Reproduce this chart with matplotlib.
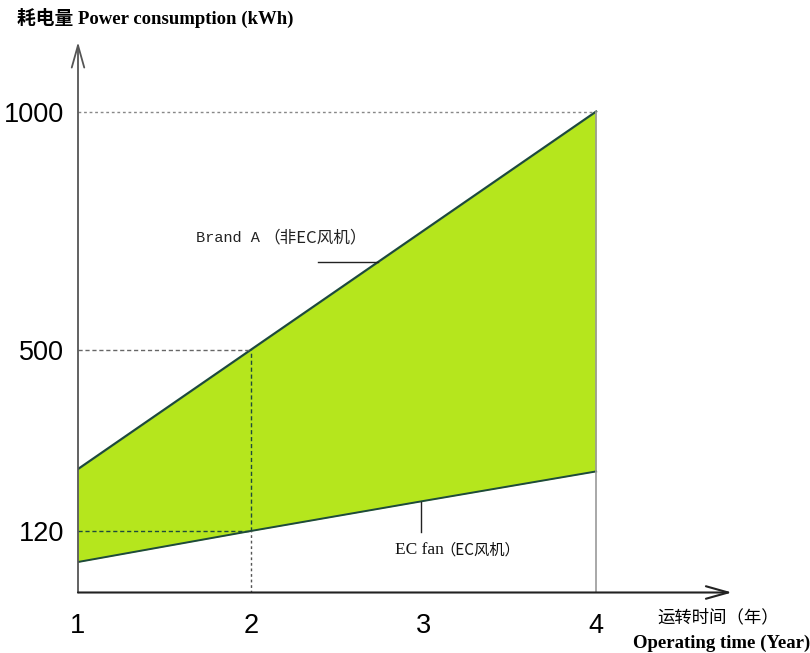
import matplotlib
matplotlib.use('Agg')
import matplotlib.pyplot as plt

# operating years and yearly consumption of both fans (kWh)
years = [1, 2, 3, 4]
brand_a_kwh = [250, 500, 750, 1000]
ec_fan_kwh = [55, 120, 183, 245]
y_ticks = [120, 500, 1000]

num_font = 'Liberation Sans'
cjk = 'Noto Sans CJK SC'

fill_green = '#b5e61d'
line_dark = '#1d4a3c'

fig = plt.figure(figsize=(8.1, 6.53), dpi=100)
ax = fig.add_axes([78 / 810, (653 - 592.5) / 653, 654 / 810, 550.5 / 653])
ax.set_xlim(1, 4.787)
ax.set_ylim(-9, 1146)
for s in ax.spines.values():
    s.set_visible(False)

# band between the two consumption lines
ax.fill_between(years, ec_fan_kwh, brand_a_kwh, color=fill_green, lw=0)
ax.plot(years, brand_a_kwh, color=line_dark, lw=1.6)
ax.plot(years, ec_fan_kwh, color=line_dark, lw=1.4)

# guide lines
ax.plot([1, 4], [1000, 1000], color='#888888', lw=1, ls=(0, (2, 2)))
ax.plot([4, 4], [-9, 1000], color='#999999', lw=1.2)
ax.plot([1, 2], [500, 500], color='#666666', lw=1, ls=(0, (3, 2)))
ax.plot([1, 2], [120, 120], color=line_dark, lw=1, ls=(0, (3, 2)))
ax.plot([2, 2], [120, 500], color=line_dark, lw=1, ls=(0, (3, 2)))
ax.plot([2, 2], [-9, 120], color='#555555', lw=1, ls=(0, (2, 2)))

# axes with open arrow heads
ax.annotate('', xy=(1, 1146), xytext=(1, -9),
            arrowprops=dict(arrowstyle='->,head_length=1.6,head_width=0.45',
                            color='#555555', lw=1.3, shrinkA=0, shrinkB=0),
            annotation_clip=False)
ax.annotate('', xy=(4.787, -9), xytext=(1, -9),
            arrowprops=dict(arrowstyle='->,head_length=1.6,head_width=0.45',
                            color='#222222', lw=1.5, shrinkA=0, shrinkB=0),
            annotation_clip=False)

ax.set_xticks(years)
ax.set_xticklabels([str(y) for y in years], fontfamily=num_font, fontsize=19.5)
ax.set_yticks(y_ticks)
ax.set_yticklabels([str(v) for v in y_ticks], fontfamily=num_font, fontsize=19.5)
ax.tick_params(axis='x', length=0, pad=15)
ax.tick_params(axis='y', length=0, pad=10)

# series labels with leader lines
ax.text(1.683, 735, 'Brand A', family='Liberation Mono',
        fontsize=11, color='#222222', va='center')
ax.text(2.071, 735, '（非EC风机）', family=[cjk],
        fontsize=12, color='#222222', va='center')
ax.plot([2.39, 2.737], [684, 684], color='#222222', lw=1)

ax.text(2.836, 80, 'EC fan', family='Liberation Serif',
        fontsize=12.5, color='#111111', va='center')
ax.text(3.10, 80, '（EC风机）', family=[cjk],
        fontsize=11, color='#111111', va='center')
ax.plot([2.986, 2.986], [118, 181], color='#222222', lw=1)

# axis titles
fig.text(17 / 810, 1 - 18 / 653, '耗电量 Power consumption (kWh)',
         family=['Liberation Serif', cjk], fontweight='bold', fontsize=13.5,
         va='center', ha='left')
fig.text(718 / 810, 1 - 617 / 653, '运转时间（年）', family=[cjk],
         fontsize=12.5, va='center', ha='center')
fig.text(1.0, 1 - 643 / 653, 'Operating time (Year)',
         family=['Liberation Serif'], fontweight='bold', fontsize=13.5,
         va='center', ha='right')

fig.savefig('out.png', dpi=100)
